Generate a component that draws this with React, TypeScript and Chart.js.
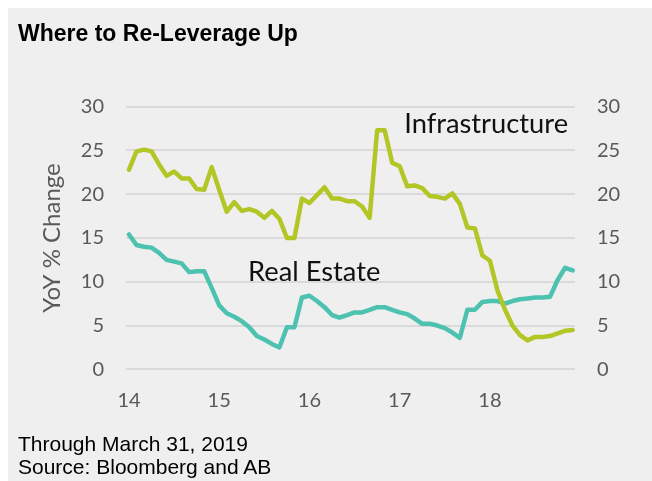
import React, { useEffect, useRef } from 'react';
import { Chart, registerables } from 'chart.js';

Chart.register(...registerables);

// Monthly observations, Jan 2014 .. Dec 2018 (x axis labelled by two-digit year)
const firstYear = 14;
const yearLabels = ['14', '15', '16', '17', '18'];

const infrastructure = [
  22.8, 24.9, 25.1, 24.9, 23.4, 22.1, 22.6, 21.8, 21.8, 20.6, 20.5, 23.1,
  20.5, 18.0, 19.1, 18.1, 18.3, 18.0, 17.3, 18.1, 17.2, 15.0, 15.0, 19.5,
  19.0, 19.9, 20.8, 19.5, 19.5, 19.2, 19.2, 18.6, 17.3, 27.3, 27.3, 23.6,
  23.2, 20.9, 21.0, 20.7, 19.8, 19.7, 19.5, 20.1, 18.9, 16.2, 16.1, 13.0,
  12.4, 9.0, 6.8, 5.0, 3.9, 3.3, 3.7, 3.7, 3.8, 4.1, 4.4, 4.5,
];

const realEstate = [
  15.4, 14.2, 14.0, 13.9, 13.3, 12.5, 12.3, 12.1, 11.1, 11.2, 11.2, 9.3,
  7.3, 6.4, 6.0, 5.5, 4.8, 3.8, 3.4, 2.9, 2.5, 4.8, 4.8, 8.2,
  8.4, 7.8, 7.1, 6.2, 5.9, 6.2, 6.5, 6.5, 6.8, 7.1, 7.1, 6.8,
  6.5, 6.3, 5.8, 5.2, 5.2, 5.0, 4.7, 4.2, 3.6, 6.8, 6.8, 7.7,
  7.8, 7.8, 7.5, 7.8, 8.0, 8.1, 8.2, 8.2, 8.3, 10.2, 11.6, 11.3,
];

const yTickValues = [0, 5, 10, 15, 20, 25, 30];

const seriesLabels = [
  { text: 'Infrastructure', x: 17.05, y: 28.05 },
  { text: 'Real Estate', x: 15.32, y: 11.1 },
];

const title = 'Where to Re-Leverage Up';
const yAxisTitle = 'YoY % Change';
const footnotes = ['Through March 31, 2019', 'Source: Bloomberg and AB'];

const INFRA_COLOR = '#b2c626';
const RE_COLOR = '#4ec2b1';
const TICK_COLOR = '#595959';
const FONT = 'Lato';

const toPoints = (arr: number[]) =>
  arr.map((v, i) => ({ x: firstYear + i / 12, y: v }));

const labelPlugin = {
  id: 'seriesLabels',
  afterDatasetsDraw(chart: any) {
    const { ctx, scales } = chart;
    const xs = scales.x;
    const ys = scales.y;
    ctx.save();
    ctx.font = `27.3px ${FONT}`;
    ctx.fillStyle = '#111111';
    ctx.textAlign = 'left';
    ctx.textBaseline = 'middle';
    seriesLabels.forEach((l) => {
      ctx.fillText(l.text, xs.getPixelForValue(l.x), ys.getPixelForValue(l.y));
    });
    ctx.restore();
  },
};

export default function App() {
  const canvasRef = useRef<HTMLCanvasElement | null>(null);

  useEffect(() => {
    document.documentElement.style.overflow = 'hidden';
    document.body.style.marginRight = '0px';
    document.body.style.marginBottom = '0px';
    const canvas = canvasRef.current;
    if (!canvas) return;
    const chart = new Chart(canvas, {
      type: 'line',
      data: {
        datasets: [
          {
            label: 'Infrastructure',
            data: toPoints(infrastructure),
            borderColor: INFRA_COLOR,
            backgroundColor: INFRA_COLOR,
            borderWidth: 4.5,
            pointRadius: 0,
            tension: 0,
            borderJoinStyle: 'round',
            borderCapStyle: 'round',
            yAxisID: 'y',
          },
          {
            label: 'Real Estate',
            data: toPoints(realEstate),
            borderColor: RE_COLOR,
            backgroundColor: RE_COLOR,
            borderWidth: 4.5,
            pointRadius: 0,
            tension: 0,
            borderJoinStyle: 'round',
            borderCapStyle: 'round',
            yAxisID: 'y',
          },
        ],
      },
      options: {
        animation: false,
        responsive: false,
        devicePixelRatio: 1,
        layout: { padding: { top: 98.7, left: 0, right: 0, bottom: 0 } },
        plugins: {
          legend: { display: false },
          tooltip: { enabled: false },
          title: { display: false },
        },
        scales: {
          x: {
            type: 'linear',
            min: 13.967,
            max: 18.9426,
            grid: { display: false, drawTicks: false },
            border: { display: false },
            afterBuildTicks: (scale: any) => {
              scale.ticks = yearLabels.map((l) => ({ value: Number(l) }));
            },
            afterFit: (scale: any) => {
              scale.height = 111.7;
            },
            ticks: {
              color: TICK_COLOR,
              font: { family: FONT, size: 20 },
              padding: 19,
              maxRotation: 0,
              callback: (v: any) => String(v),
            },
          },
          y: {
            position: 'left',
            min: 0,
            max: 30,
            afterBuildTicks: (scale: any) => {
              scale.ticks = yTickValues.map((v) => ({ value: v }));
            },
            afterFit: (scale: any) => {
              scale.width = 118;
            },
            grid: { color: '#dadada', lineWidth: 2, drawTicks: false },
            border: { display: false },
            ticks: {
              color: TICK_COLOR,
              font: { family: FONT, size: 20 },
              padding: 22,
            },
            title: {
              display: true,
              text: yAxisTitle,
              color: TICK_COLOR,
              font: { family: FONT, size: 24 },
              padding: { top: 30, bottom: 0 },
            },
          },
          y2: {
            position: 'right',
            min: 0,
            max: 30,
            afterBuildTicks: (scale: any) => {
              scale.ticks = yTickValues.map((v) => ({ value: v }));
            },
            afterFit: (scale: any) => {
              scale.width = 77;
            },
            grid: { display: false, drawTicks: false },
            border: { display: false },
            ticks: {
              color: TICK_COLOR,
              font: { family: FONT, size: 20 },
              padding: 22,
            },
          },
        },
      },
      plugins: [labelPlugin],
    } as any);
    return () => chart.destroy();
  }, []);

  return (
    <div
      style={{
        position: 'relative',
        width: 644,
        height: 473,
        background: '#efefef',
      }}
    >
      <canvas
        ref={canvasRef}
        width={644}
        height={473}
        style={{ position: 'absolute', left: 0, top: 0, width: 644, height: 473 }}
      />
      <div
        style={{
          position: 'absolute',
          left: 10,
          top: 12,
          fontFamily: '"Liberation Sans", Arial, sans-serif',
          fontWeight: 700,
          fontSize: 23,
          color: '#000',
          whiteSpace: 'nowrap',
        }}
      >
        {title}
      </div>
      <div
        style={{
          position: 'absolute',
          left: 10,
          top: 424,
          fontFamily: '"Liberation Sans", Arial, sans-serif',
          fontSize: 21,
          lineHeight: '23px',
          color: '#000',
          whiteSpace: 'nowrap',
        }}
      >
        {footnotes.map((f) => (
          <div key={f}>{f}</div>
        ))}
      </div>
    </div>
  );
}
